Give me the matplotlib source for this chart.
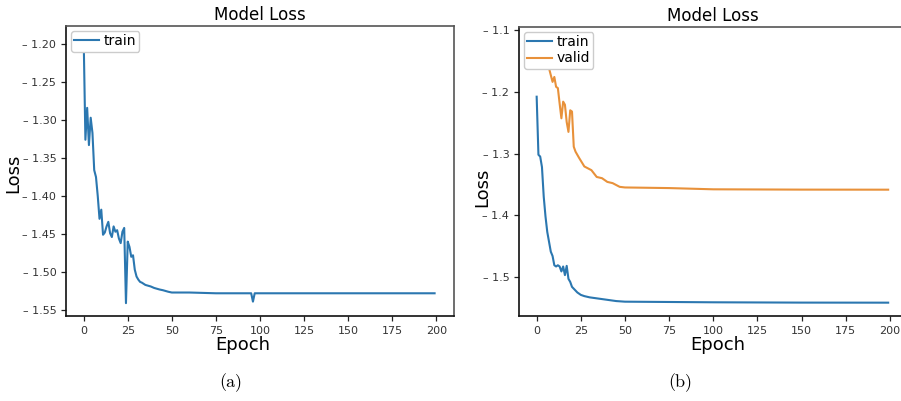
import matplotlib
matplotlib.use("Agg")
import matplotlib.pyplot as plt
from matplotlib.ticker import FuncFormatter, FixedLocator

# ---- data (a) ----
a_epoch = [0, 1, 2, 3, 4, 5, 6, 7, 8, 9, 10, 11, 12, 13, 14, 15, 16, 17, 18, 19,
           20, 21, 22, 23, 24, 25, 26, 27, 28, 29, 30, 31, 32, 33, 35, 38, 40, 43, 45,
           48, 50, 60, 75, 95, 96, 97, 125, 150, 175, 199]
a_train = [-1.19, -1.326, -1.284, -1.333, -1.297, -1.317, -1.366, -1.375, -1.400, -1.430,
           -1.418, -1.451, -1.448, -1.440, -1.434, -1.449, -1.454, -1.440, -1.447, -1.445,
           -1.456, -1.462, -1.447, -1.442, -1.541, -1.460, -1.467, -1.480, -1.478, -1.497,
           -1.506, -1.510, -1.513, -1.514, -1.517, -1.519, -1.521, -1.523, -1.524,
           -1.526, -1.527, -1.527, -1.528, -1.528, -1.539, -1.528, -1.528, -1.528, -1.528,
           -1.528]

# ---- data (b) ----
b_epoch_train = [0, 1, 2, 3, 4, 5, 6, 7, 8, 9, 10, 11, 12, 13, 14, 15, 16, 17, 18, 19,
                 20, 21, 22, 23, 24, 25, 27, 30, 35, 40, 45, 50, 100, 150, 199]
b_train = [-1.208, -1.302, -1.305, -1.322, -1.370, -1.402, -1.427, -1.443, -1.459, -1.466,
           -1.481, -1.483, -1.481, -1.483, -1.491, -1.483, -1.497, -1.482, -1.503, -1.508,
           -1.516, -1.519, -1.522, -1.525, -1.527, -1.529, -1.531, -1.533, -1.535, -1.537,
           -1.539, -1.540, -1.541, -1.5415, -1.5416]
b_epoch_valid = [0, 3, 5, 7, 8, 9, 10, 11, 12, 13, 14, 15, 16, 17, 18, 19, 20, 21, 22,
                 24, 27, 31, 34, 37, 40, 43, 47, 50, 75, 100, 150, 199]
b_valid = [-1.12, -1.14, -1.15, -1.162, -1.173, -1.184, -1.176, -1.192, -1.194, -1.219,
           -1.243, -1.216, -1.221, -1.249, -1.265, -1.230, -1.232, -1.289, -1.297,
           -1.307, -1.321, -1.327, -1.338, -1.340, -1.346, -1.348, -1.354, -1.355,
           -1.356, -1.358, -1.3585, -1.3586]

a_yticks = [-1.20, -1.25, -1.30, -1.35, -1.40, -1.45, -1.50, -1.55]
b_yticks = [-1.1, -1.2, -1.3, -1.4, -1.5]
xticks = [0, 25, 50, 75, 100, 125, 150, 175, 200]

BLUE = "#2b77b0"
ORANGE = "#e8913a"

W, H = 901, 401
fig = plt.figure(figsize=(W / 100, H / 100), dpi=100)


def px(l, t, r, b):
    return [l / W, 1 - b / H, (r - l) / W, (b - t) / H]


ax1 = fig.add_axes(px(66, 26, 454, 316))
ax2 = fig.add_axes(px(519, 27, 907.6, 316))


def style(ax, yticks, fmt):
    for s in ax.spines.values():
        s.set_linewidth(1.2)
    ax.spines['top'].set_color('#555555')
    ax.spines['right'].set_color('#555555')
    ax.spines['left'].set_color('#111111')
    ax.spines['bottom'].set_color('#111111')
    ax.set_xticks(xticks)
    ax.yaxis.set_major_locator(FixedLocator(yticks))
    ax.yaxis.set_major_formatter(FuncFormatter(lambda v, p: "\u2013 " + (fmt % abs(v))))
    ax.tick_params(axis='both', labelsize=8, colors='#222222', length=3.5, width=0.9,
                   labelcolor='#333333')
    ax.set_xlim(-10, 210)


LEG = dict(loc='upper left', fontsize=10, handlelength=1.75, borderpad=0.25,
           handletextpad=0.35, borderaxespad=0.35, labelspacing=0.15, fancybox=True,
           framealpha=1)

ax1.plot(a_epoch, a_train, color=BLUE, lw=1.5, label='train')
style(ax1, a_yticks, "%.2f")
ax1.set_ylim(-1.5579, -1.1763)
ax1.set_title("Model Loss", fontsize=12, pad=4)
ax1.set_xlabel("Epoch", fontsize=13)
ax1.set_ylabel("Loss", fontsize=13)
ax1.xaxis.set_label_coords(0.456, -0.068)
ax1.yaxis.set_label_coords(-0.113, 0.493)
ax1.legend(**LEG)

ax2.plot(b_epoch_train, b_train, color=BLUE, lw=1.5, label='train')
ax2.plot(b_epoch_valid, b_valid, color=ORANGE, lw=1.5, label='valid')
style(ax2, b_yticks, "%.1f")
ax2.set_ylim(-1.5632, -1.0951)
ax2.set_title("Model Loss", fontsize=12, pad=4)
ax2.set_xlabel("Epoch", fontsize=13)
ax2.set_ylabel("Loss", fontsize=13)
ax2.xaxis.set_label_coords(0.512, -0.068)
ax2.yaxis.set_label_coords(-0.072, 0.446)
ax2.legend(**LEG)

fig.text(231 / W, 1 - 383 / H, "(a)", fontsize=13, family='cmr10', ha='center', va='center')
fig.text(680 / W, 1 - 383 / H, "(b)", fontsize=13, family='cmr10', ha='center', va='center')

fig.savefig("out.png", dpi=100)
